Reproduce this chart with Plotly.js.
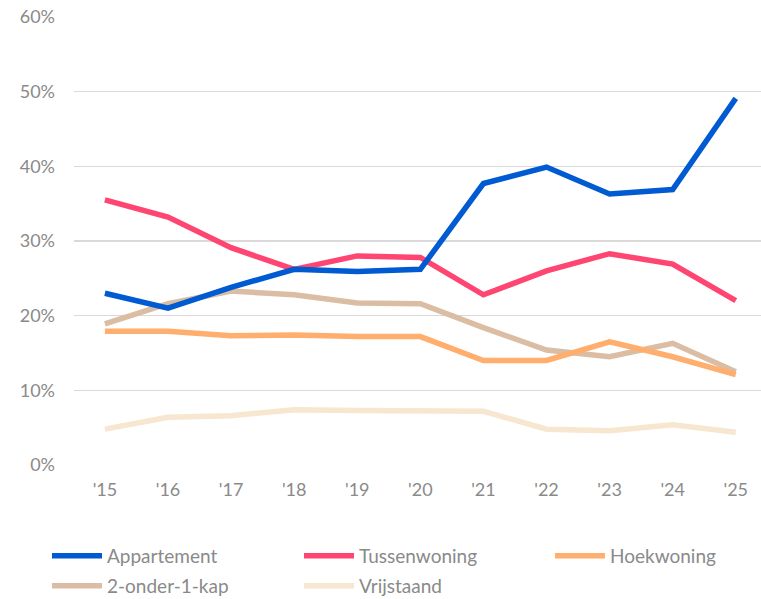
<!DOCTYPE html>
<html>
<head>
<meta charset="utf-8">
<script src="https://cdn.plot.ly/plotly-3.0.1.min.js"></script>
<style>html,body{margin:0;padding:0;background:#fff;}#chart{width:761px;height:599px;}</style>
</head>
<body>
<div id="chart"></div>
<script>
const years = ["'15","'16","'17","'18","'19","'20","'21","'22","'23","'24","'25"];
const appartement = [23.0, 21.0, 23.8, 26.2, 25.9, 26.2, 37.7, 39.9, 36.3, 36.9, 49.1];
const tussenwoning = [35.5, 33.2, 29.1, 26.2, 28.0, 27.8, 22.8, 26.0, 28.3, 26.9, 22.0];
const hoekwoning = [17.9, 17.9, 17.3, 17.4, 17.2, 17.2, 14.0, 14.0, 16.5, 14.5, 12.1];
const onder1kap = [18.9, 21.6, 23.3, 22.8, 21.7, 21.6, 18.4, 15.4, 14.5, 16.3, 12.5];
const vrijstaand = [4.8, 6.4, 6.6, 7.4, 7.3, 7.3, 7.2, 4.8, 4.6, 5.4, 4.4];
const names = ["Appartement","Tussenwoning","Hoekwoning","2-onder-1-kap","Vrijstaand"];
const colors = ["#005AD2","#FF4571","#FFAE6D","#DBBDA4","#F7E6D0"];
const legendOf = ["legend","legend","legend3","legend2","legend2"];
const series = [appartement, tussenwoning, hoekwoning, onder1kap, vrijstaand];
const order = [4,3,2,1,0];
const traces = series.map((s,i)=>({
  x: years, y: s, name: names[i], type: 'scatter', mode: 'lines',
  line: {color: colors[i], width: 5.5},
  legend: legendOf[i], legendrank: i
}));
const drawn = order.map(i=>traces[i]);
const legBase = {orientation: 'h', xref: 'container', yref: 'container', xanchor: 'left', yanchor: 'middle',
  entrywidth: 187, entrywidthmode: 'pixels', itemwidth: 50, traceorder: 'normal',
  font: {size: 19, color: '#8a8a8a'}, bgcolor: 'rgba(0,0,0,0)'};
const layout = {
  width: 761, height: 599,
  margin: {l: 74, r: 0, t: 17, b: 134},
  paper_bgcolor: '#fff', plot_bgcolor: '#fff',
  font: {family: 'Lato, sans-serif', color: '#8a8a8a', size: 17},
  showlegend: true,
  xaxis: {type: 'category', range: [-0.49, 10.4], showgrid: false, zeroline: false, showline: false,
          ticks: '', tickfont: {size: 18, color: '#8a8a8a'}, ticklabelstandoff: 12},
  yaxis: {range: [0, 60], dtick: 10, ticksuffix: '%', showgrid: true, gridcolor: '#d9d9d9', gridwidth: 1.5,
          zeroline: false, showline: false, ticks: '', tickfont: {size: 18, color: '#8a8a8a'}, ticklabelstandoff: 18},
  legend: Object.assign({}, legBase, {x: 47/761, y: 1 - 556/599}),
  legend3: Object.assign({}, legBase, {x: 550/761, y: 1 - 556/599}),
  legend2: Object.assign({}, legBase, {x: 47/761, y: 1 - 586/599})
};
Plotly.newPlot('chart', drawn, layout, {displayModeBar: false, staticPlot: true});
</script>
</body>
</html>
